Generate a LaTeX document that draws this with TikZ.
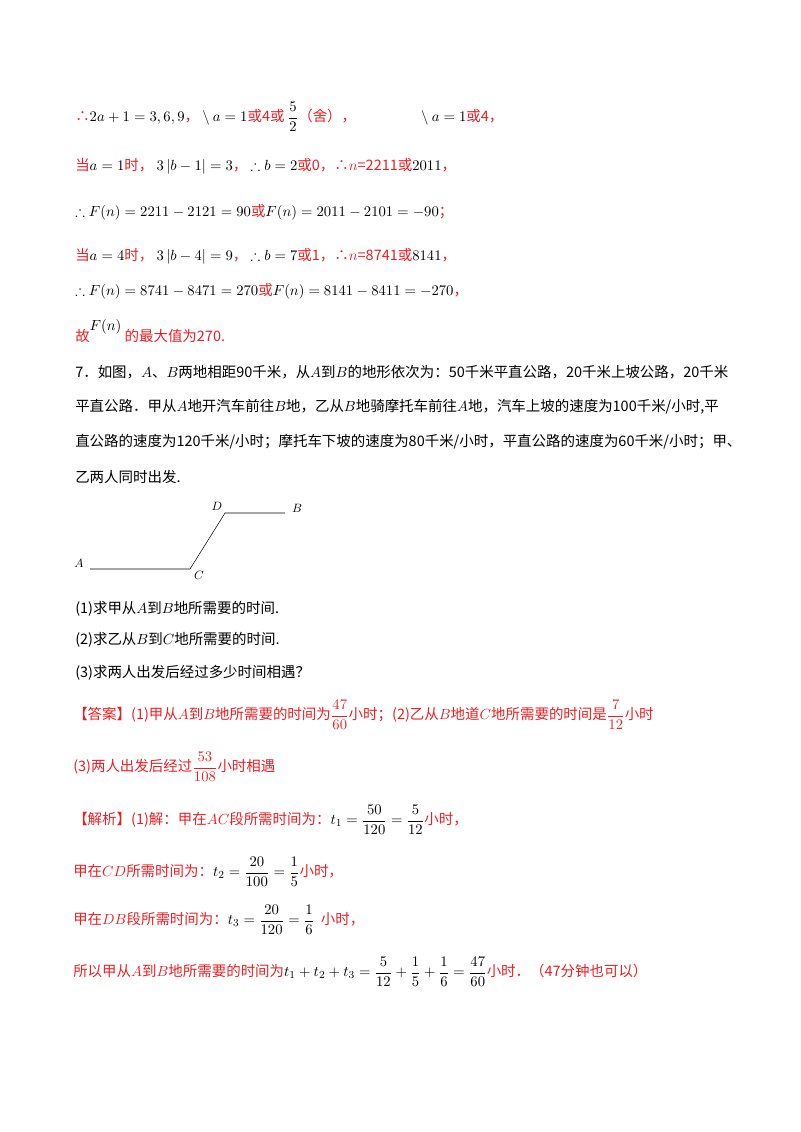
\documentclass[tikz,border=0pt]{standalone}
\usepackage{amsmath,amssymb}
\usepackage{fontspec}
\newfontfamily\cjk{Noto Sans CJK SC}
\usetikzlibrary{positioning}
\definecolor{ansred}{RGB}{235,30,35}
\tikzset{
    txt/.style={anchor=west, inner sep=0pt, font=\cjk\fontsize{10.8pt}{12pt}\selectfont},
    redtxt/.style={txt, text=ansred},
    lbl/.style={inner sep=0pt, font=\itshape\small},
}
\begin{document}
\begin{tikzpicture}[x=0.02625cm, y=-0.02625cm]
        \useasboundingbox (0,0) rectangle (800,1132);

        % WORKED LINES
        \node[redtxt] (L1) at (75,117)  {∴\textcolor{black}{$2a+1=3,6,9$}，\ \textcolor{black}{$\backslash\ a=1$}或4或 \textcolor{black}{$\dfrac{5}{2}$}（舍），\hspace{4.5em}\textcolor{black}{$\backslash\ a=1$}或4，};
        \node[redtxt] (L2) at (75,166)  {当\textcolor{black}{$a=1$}时，\ \textcolor{black}{$3\left|b-1\right|=3$}，\ \textcolor{black}{$\therefore b=2$}或0，∴$n$=2211或\textcolor{black}{$2011$}，};
        \node[redtxt] (L3) at (75,212)  {\textcolor{black}{$\therefore F(n)=2211-2121=90$}或\textcolor{black}{$F(n)=2011-2101=-90$}；};
        \node[redtxt] (L4) at (75,256)  {当\textcolor{black}{$a=4$}时，\ \textcolor{black}{$3\left|b-4\right|=9$}，\ \textcolor{black}{$\therefore b=7$}或1，∴$n$=8741或\textcolor{black}{$8141$}，};
        \node[redtxt] (L5) at (75,291)  {\textcolor{black}{$\therefore F(n)=8741-8471=270$}或\textcolor{black}{$F(n)=8141-8411=-270$}，};
        \node[redtxt] (L6) at (75,331)  {故\raisebox{1.3ex}{\textcolor{black}{$F(n)$}}\ 的最大值为270.};

        % PROBLEM
        \node[txt] (P1) at (75,372)  {7．如图，$A$、$B$两地相距90千米，从$A$到$B$的地形依次为：50千米平直公路，20千米上坡公路，20千米};
        \node[txt] (P2) at (75,407)  {平直公路．甲从$A$地开汽车前往$B$地，乙从$B$地骑摩托车前往$A$地，汽车上坡的速度为100千米/小时,平};
        \node[txt] (P3) at (75,442)  {直公路的速度为120千米/小时；摩托车下坡的速度为80千米/小时，平直公路的速度为60千米/小时；甲、};
        \node[txt] (P4) at (75,477)  {乙两人同时出发.};

        % ROAD
        \coordinate (a) at (90,569);
        \coordinate (c) at (190,569);
        \coordinate (d) at (225,513);
        \coordinate (b) at (285,513);
        \draw (a) -- (c) -- (d) -- (b);
        \node[lbl] (A) at (79,563) {$A$};
        \node[lbl] (C) at (199,575) {$C$};
        \node[lbl] (D) at (217,506) {$D$};
        \node[lbl] (B) at (297,508) {$B$};

        % QUESTIONS
        \node[txt] (Q1) at (75,609) {(1)求甲从$A$到$B$地所需要的时间.};
        \node[txt] (Q2) at (75,640) {(2)求乙从$B$到$C$地所需要的时间.};
        \node[txt] (Q3) at (75,673) {(3)求两人出发后经过多少时间相遇？};

        % ANSWER
        \node[redtxt] (S1) at (73,715) {【答案】(1)甲从$A$到$B$地所需要的时间为$\dfrac{47}{60}$小时；(2)乙从$B$地道$C$地所需要的时间是$\dfrac{7}{12}$小时};
        \node[redtxt] (S2) at (73,767) {(3)两人出发后经过$\dfrac{53}{108}$小时相遇};
        \node[redtxt] (S3) at (73,820) {【解析】(1)解：甲在$AC$段所需时间为：\textcolor{black}{$t_1=\dfrac{50}{120}=\dfrac{5}{12}$}小时，};
        \node[redtxt] (S4) at (73,872) {甲在$CD$所需时间为：\textcolor{black}{$t_2=\dfrac{20}{100}=\dfrac{1}{5}$}小时，};
        \node[redtxt] (S5) at (73,920) {甲在$DB$段所需时间为：\textcolor{black}{$t_3=\dfrac{20}{120}=\dfrac{1}{6}$}\ \ 小时，};
        \node[redtxt] (S6) at (73,972) {所以甲从$A$到$B$地所需要的时间为\textcolor{black}{$t_1+t_2+t_3=\dfrac{5}{12}+\dfrac{1}{5}+\dfrac{1}{6}=\dfrac{47}{60}$}小时．（47分钟也可以）};

    \end{tikzpicture}
\end{document}
